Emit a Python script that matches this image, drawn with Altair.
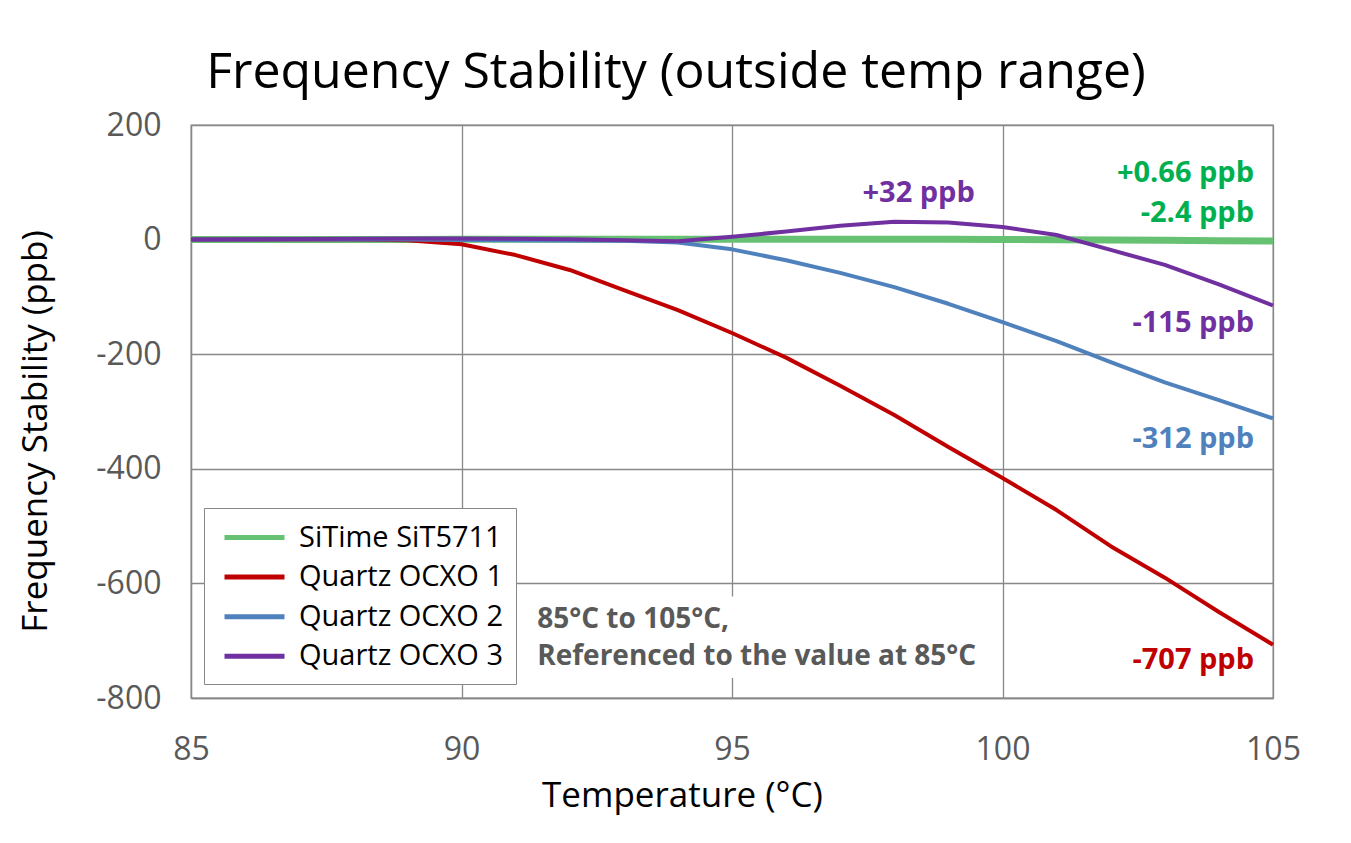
import altair as alt
import pandas as pd

temps = list(range(85, 106))
sitime = [0, 0.1, 0.2, 0.3, 0.35, 0.4, 0.45, 0.5, 0.55, 0.6, 0.62, 0.64, 0.65, 0.66, 0.5, 0.2, -0.2, -0.7, -1.2, -1.8, -2.4]
ocxo1 = [0, 0, 0, 0, -1, -8, -27, -53, -88, -123, -163, -206, -255, -306, -362, -416, -472, -535, -590, -650, -707]
ocxo2 = [0, 0, 0, 0, 0, -0.5, -1, -1.5, -2, -5, -17, -36, -58, -83, -112, -144, -177, -214, -249, -280, -312]
ocxo3 = [0, 0.5, 1, 1.5, 2, 2, 1.5, 0.5, -1, -3, 5, 14, 24, 31, 30, 22, 8, -18, -44, -78, -115]

series_names = ["SiTime SiT5711", "Quartz OCXO 1", "Quartz OCXO 2", "Quartz OCXO 3"]
series_colors = ["#66C172", "#C00000", "#4F81BD", "#7030A0"]

end_texts = ["+0.66 ppb", "-2.4 ppb", "-115 ppb", "-312 ppb", "-707 ppb"]
end_x = [104.65, 104.65, 104.65, 104.65, 104.65]
end_y = [116, 46, -146, -348, -734]
end_colors = ["#00B050", "#00B050", "#7030A0", "#4F81BD", "#C00000"]

peak_texts = ["+32 ppb"]
peak_x = [98.45]
peak_y = [81]
peak_colors = ["#7030A0"]

note_lines = ["85°C to 105°C,", "Referenced to the value at 85°C"]
note_x = [91.4, 91.4]
note_y = [-664, -728]

rows = []
for name, vals in zip(series_names, [sitime, ocxo1, ocxo2, ocxo3]):
    for t, v in zip(temps, vals):
        rows.append({"series": name, "temp": t, "value": v})
df = pd.DataFrame(rows)

end_df = pd.DataFrame({"text": end_texts, "x": end_x, "y": end_y, "c": end_colors})
peak_df = pd.DataFrame({"text": peak_texts, "x": peak_x, "y": peak_y, "c": peak_colors})
note_df = pd.DataFrame({"text": note_lines, "x": note_x, "y": note_y})
box_df = pd.DataFrame({"x": [91.2], "x2": [99.7], "y": [-623], "y2": [-765]})

FONT = "Open Sans"

xscale = alt.Scale(domain=[85, 105], nice=False, zero=False)
yscale = alt.Scale(domain=[-800, 200], nice=False)

color_enc = alt.Color(
    "series:N",
    scale=alt.Scale(domain=series_names, range=series_colors),
    sort=series_names,
    legend=alt.Legend(title=None, orient="none", legendX=13, legendY=383,
                      symbolType="M-0.6,0H3.4", symbolSize=900,
                      symbolStrokeWidth=5, labelFontSize=29,
                      labelFont=FONT, labelColor="black",
                      labelOffset=48, rowPadding=6.6,
                      padding=12, strokeColor="#888888",
                      fillColor="white", labelLimit=400),
)

x_enc = alt.X("temp:Q", scale=xscale,
              axis=alt.Axis(values=[85, 90, 95, 100, 105], title="Temperature (°C)",
                            titleX=491, titleY=97, titleBaseline="middle",
                            labelPadding=36, labelFlush=False))
y_enc = alt.Y("value:Q", scale=yscale,
              axis=alt.Axis(values=[-800, -600, -400, -200, 0, 200],
                            labelExpr="'' + datum.value",
                            title="Frequency Stability (ppb)",
                            titleX=-156, titleY=306, titleAngle=270,
                            titleBaseline="middle", labelPadding=30,
                            labelFlush=False))

base = alt.Chart(df).encode(x=x_enc, y=y_enc, color=color_enc, order=alt.Order("temp:Q"))

green = base.transform_filter(alt.datum.series == series_names[0]).mark_line(
    strokeWidth=7, strokeJoin="round")
others = base.transform_filter(alt.datum.series != series_names[0]).mark_line(
    strokeWidth=4, strokeJoin="round")

box = alt.Chart(box_df).mark_rect(color="white").encode(
    x="x:Q", x2="x2:Q", y="y:Q", y2="y2:Q"
)

end_labels = alt.Chart(end_df).mark_text(font=FONT, fontSize=29, fontWeight="bold",
                                         baseline="middle", align="right").encode(
    x="x:Q", y="y:Q", text="text:N", color=alt.Color("c:N", scale=None),
)

peak_labels = alt.Chart(peak_df).mark_text(font=FONT, fontSize=29, fontWeight="bold",
                                           baseline="middle", align="center").encode(
    x="x:Q", y="y:Q", text="text:N", color=alt.Color("c:N", scale=None),
)

notes = alt.Chart(note_df).mark_text(font=FONT, fontSize=28, fontWeight="bold",
                                     align="left", baseline="middle",
                                     color="#595959").encode(
    x="x:Q", y="y:Q", text="text:N"
)

chart = alt.layer(box, green, others, end_labels, peak_labels, notes).properties(
    width=1082, height=573,
    padding={"left": 183, "top": 117, "right": 70, "bottom": 120},
    autosize=alt.AutoSizeParams(type="none"),
    background="white",
    title=alt.TitleParams("Frequency Stability (outside temp range)", font=FONT,
                          fontSize=50, fontWeight="normal", color="black",
                          anchor="middle", dx=-56, offset=11),
).configure_view(stroke="#888888", strokeWidth=1.3).configure_axis(
    grid=True, gridColor="#888888", gridWidth=1.3, domainColor="#888888",
    domainWidth=1.3, ticks=False, labelFont=FONT, labelFontSize=32,
    labelColor="#595959", titleFont=FONT, titleFontSize=35,
    titleFontWeight="normal", titleColor="black",
)

chart.save("out.html", embed_options={"renderer": "svg", "actions": False})
